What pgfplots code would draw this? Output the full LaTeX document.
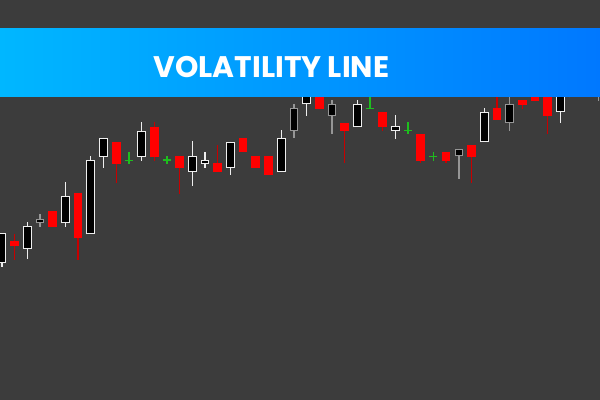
\documentclass[border=0pt]{standalone}
\usepackage{pgfplots}
\pgfplotsset{compat=1.18}
\usepackage{fontspec}
\newfontfamily\titlefont{Poppins}

\definecolor{bg}{RGB}{60,60,60}
\definecolor{wt}{RGB}{238,238,238}
\definecolor{gy}{RGB}{150,150,150}
\definecolor{bearred}{RGB}{255,0,0}
\definecolor{wickred}{RGB}{200,0,0}
\definecolor{dojigreen}{RGB}{30,190,30}
\definecolor{bannerL}{RGB}{0,183,255}
\definecolor{bannerR}{RGB}{0,120,255}

% 1px = 0.75pt, canvas 600 x 400 px
\newcommand\bodyw{6.5pt}
\newcommand\wickw{1pt}

% bullish candle: outline colour, index, open, high, low, close
\newcommand\bull[6]{%
  \addplot[draw=#1, line width=\wickw] coordinates {(#2,#4) (#2,#5)};
  \addplot[draw=#1, line width=\bodyw] coordinates {(#2,#3) (#2,#6)};
  \addplot[draw=black, line width=5pt, shorten <=0.8pt, shorten >=0.8pt]
    coordinates {(#2,#3) (#2,#6)};
}
% bearish candle: index, open, high, low, close
\newcommand\bear[5]{%
  \addplot[draw=wickred, line width=\wickw] coordinates {(#1,#3) (#1,#4)};
  \addplot[draw=bearred, line width=\bodyw] coordinates {(#1,#2) (#1,#5)};
}
% doji cross: index, high, low, close
\newcommand\doji[4]{%
  \addplot[draw=dojigreen, line width=1.1pt] coordinates {(#1,#2) (#1,#3)};
  \addplot[only marks, mark=-, mark size=3pt,
    mark options={draw=dojigreen, line width=1.1pt}] coordinates {(#1,#4)};
}

\begin{document}
\begin{tikzpicture}
\useasboundingbox (0,0) rectangle (450pt,300pt);
\fill[bg] (0,0) rectangle (450pt,300pt);
\begin{axis}[
  at={(0,0)}, anchor=south west,
  scale only axis, width=450pt, height=300pt,
  xmin=-0.1576, xmax=47.124, ymin=0, ymax=400,
  axis lines=none, xtick=\empty, ytick=\empty,
  clip=true,
]
\bull{wt}{0}{136.7}{166.7}{133.3}{166.7}
\bear{1}{159}{165.7}{140}{154.3}
\bull{wt}{2}{151.3}{177.7}{140.7}{174}
\bull{gy}{3}{176.7}{185.7}{173.3}{181.3}
\bear{4}{188.7}{188.7}{173.3}{173.3}
\bull{wt}{5}{176.7}{218}{173.3}{204}
\bear{6}{207}{207}{140}{162.3}
\bull{wt}{7}{165.7}{244}{165.7}{240}
\bull{wt}{8}{243.3}{262.3}{232.3}{262.3}
\bear{9}{258}{258}{217.3}{236}
\doji{10}{248}{236.3}{239.7}
\bull{wt}{11}{243.3}{277.7}{239.3}{269.3}
\bear{12}{273.3}{277.7}{239.3}{243.3}
\doji{13}{244}{236}{240}
\bear{14}{244}{244}{206}{232}
\bull{wt}{15}{228.3}{258.7}{214.3}{244}
\bull{wt}{16}{236.3}{248}{232}{240}
\bear{17}{237}{255}{228.3}{228.3}
\bull{wt}{18}{232.3}{258.3}{225}{258.3}
\bear{19}{262}{262}{247.7}{247.7}
\bear{20}{244}{244}{232.3}{232.3}
\bear{21}{244}{244}{225.3}{225.3}
\bull{wt}{22}{228.3}{269.7}{228.3}{262.3}
\bull{gy}{23}{269.3}{296}{261.7}{291.7}
\bull{wt}{24}{295.7}{320}{284}{310}
\bear{25}{310}{310}{291}{291}
\bull{gy}{26}{284.3}{300}{265.7}{295.7}
\bear{27}{277.3}{277.3}{236.7}{269}
\bull{wt}{28}{272.7}{300}{272.7}{295.7}
\doji{29}{310}{291.7}{291.7}
\bear{30}{288.3}{288.3}{269.3}{273}
\bull{wt}{31}{269}{284.7}{261.3}{273.7}
\doji{32}{277.7}{265.7}{269.3}
\bear{33}{266.3}{266.3}{236.7}{239.3}
\doji{34}{248}{239.3}{243.7}
\bear{35}{248}{248}{236.7}{239.3}
\bull{gy}{36}{243.7}{251}{221}{251}
\bear{37}{254.7}{254.7}{217}{243.3}
\bull{wt}{38}{257.7}{291.7}{257.7}{288.3}
\bear{39}{291.7}{310}{280.3}{280.3}
\bull{gy}{40}{277}{310}{269.3}{295.7}
\bear{41}{299.7}{299.7}{291}{295.3}
\bear{42}{310}{310}{299.3}{299.3}
\bear{43}{310}{310}{266}{284.3}
\bull{wt}{44}{288}{315}{276.7}{310}
\bull{wt}{45}{302.5}{320}{302.5}{315}
\bull{wt}{46}{310}{330}{305}{325}
\bull{gy}{47}{305}{325}{299.3}{320}
\end{axis}
% title banner
\shade[left color=bannerL, right color=bannerR]
  (0,227.25pt) rectangle (450pt,278.25pt);
\node[anchor=base, inner sep=0pt, text=white,
  font=\titlefont\bfseries\fontsize{22.3pt}{25pt}\selectfont]
  at (203.6pt,241.7pt) {VOLATILITY LINE};
\end{tikzpicture}
\end{document}
